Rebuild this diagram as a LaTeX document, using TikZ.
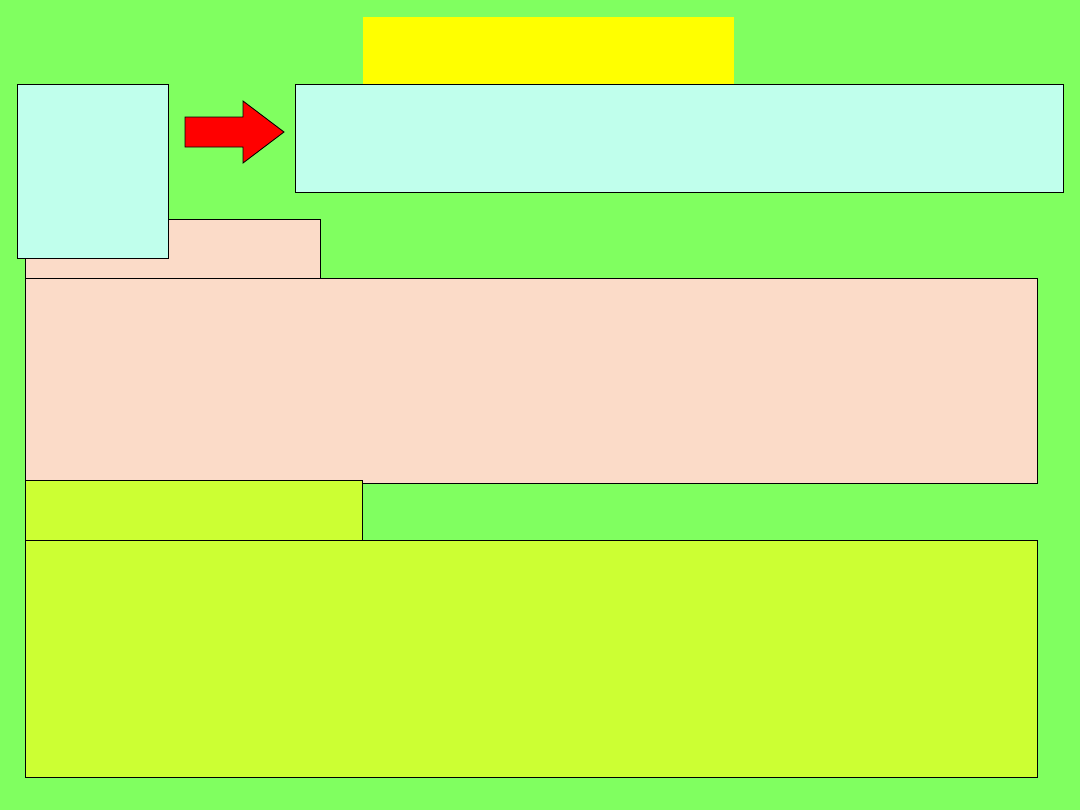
\documentclass[tikz,border=0pt]{standalone}
\usepackage{tikz}
\usetikzlibrary{positioning}

\definecolor{slidegreen}{RGB}{128,255,96}
\definecolor{titleyellow}{RGB}{255,255,0}
\definecolor{notecyan}{RGB}{192,255,236}
\definecolor{notepeach}{RGB}{251,219,200}
\definecolor{notelime}{RGB}{204,255,51}

\tikzset{panel/.style={draw=black, line width=0.6pt, rectangle, inner sep=0pt, anchor=north west}}

\begin{document}
\begin{tikzpicture}[x=0.025cm, y=-0.025cm]
	\fill[slidegreen] (0,0) rectangle (1080,810);

	\node[anchor=north west, fill=titleyellow, inner sep=0pt,
	      minimum width=9.275cm, minimum height=1.675cm] (title) at (363,17) {};

	\begin{scope}[every node/.style={panel}]
		\node[fill=notepeach, minimum width=7.375cm, minimum height=1.475cm] (phead) at (25,219) {};
		\node[fill=notepeach, minimum width=25.3cm, minimum height=5.125cm] (pbody) at (25,278) {};
		\node[fill=notelime, minimum width=8.425cm, minimum height=1.5cm] (lhead) at (25,480) {};
		\node[fill=notelime, minimum width=25.3cm, minimum height=5.925cm] (lbody) at (25,540) {};
		\node[fill=notecyan, minimum width=3.775cm, minimum height=4.35cm] (term) at (17,84) {};
		\node[fill=notecyan, minimum width=19.2cm, minimum height=2.7cm] (meaning) at (295,84) {};
	\end{scope}

	% red block arrow
	\filldraw[fill=red, draw=black, line width=0.6pt, line join=miter]
		(185,117) -- (243,117) -- (243,101) -- (284,132) -- (243,163) -- (243,147) -- (185,147) -- cycle;
\end{tikzpicture}
\end{document}
